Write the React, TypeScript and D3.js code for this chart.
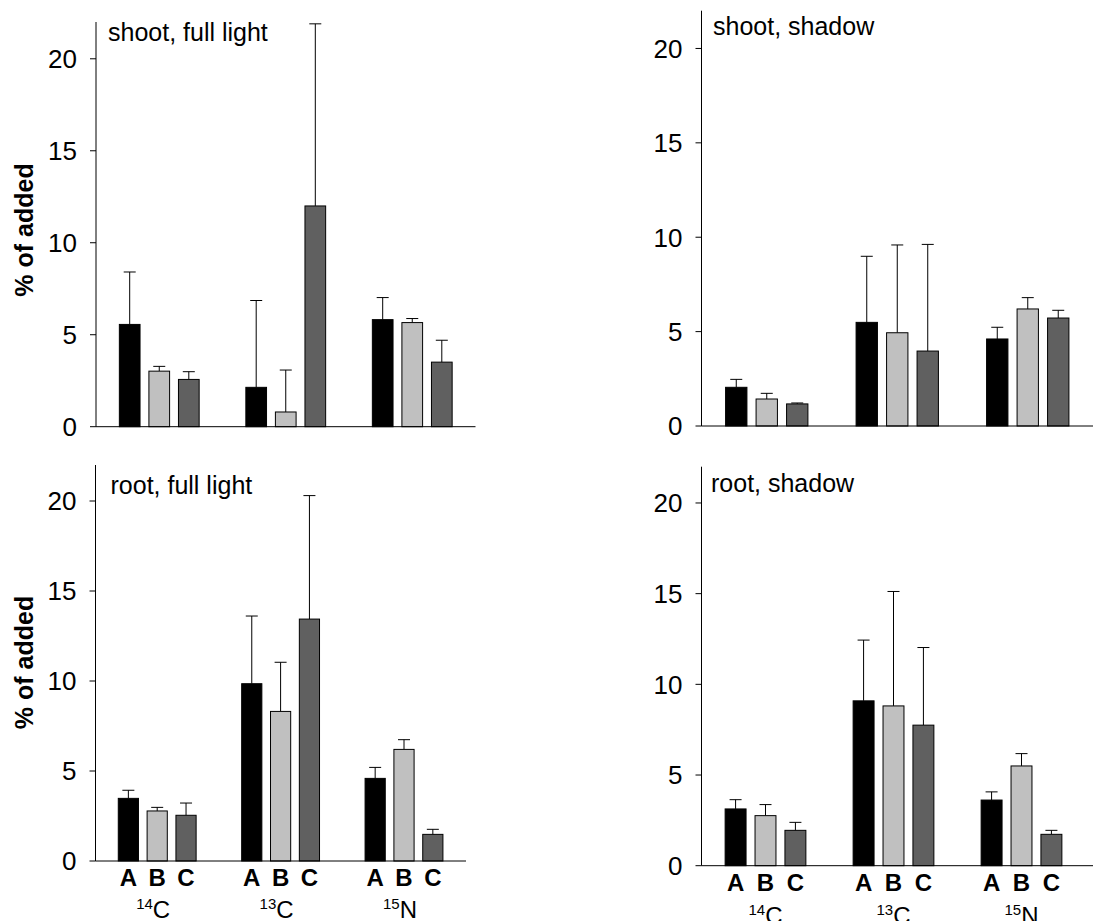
import React from 'react';
import * as d3 from 'd3';

const groups = ['14C', '13C', '15N'];
const isotopeMass = ['14', '13', '15'];
const isotopeElement = ['C', 'C', 'N'];
const treatments = ['A', 'B', 'C'];
const yTicks = [0, 5, 10, 15, 20];
const yMax = 22;
const barColors = ['#000000', '#c0c0c0', '#606060'];
const panelTitles = ['shoot, full light', 'shoot, shadow', 'root, full light', 'root, shadow'];

// values ordered 14C(A,B,C), 13C(A,B,C), 15N(A,B,C)
const shootFullMean = [5.56, 3.02, 2.57, 2.14, 0.8, 12.0, 5.82, 5.66, 3.51];
const shootFullErr = [2.85, 0.26, 0.42, 4.72, 2.28, 9.9, 1.2, 0.22, 1.19];
const shootShadowMean = [2.05, 1.43, 1.17, 5.49, 4.94, 3.97, 4.61, 6.2, 5.72];
const shootShadowErr = [0.42, 0.3, 0.05, 3.5, 4.65, 5.65, 0.62, 0.6, 0.41];
const rootFullMean = [3.48, 2.78, 2.54, 9.85, 8.31, 13.44, 4.59, 6.2, 1.48];
const rootFullErr = [0.45, 0.2, 0.68, 3.76, 2.73, 6.86, 0.61, 0.54, 0.28];
const rootShadowMean = [3.13, 2.76, 1.95, 9.09, 8.81, 7.75, 3.62, 5.5, 1.73];
const rootShadowErr = [0.51, 0.61, 0.44, 3.35, 6.31, 4.28, 0.45, 0.68, 0.22];

const panelMeans = [shootFullMean, shootShadowMean, rootFullMean, rootShadowMean];
const panelErrs = [shootFullErr, shootShadowErr, rootFullErr, rootShadowErr];

// layout of each panel
const layouts = [
  { x0: 96, gw: 126.5, xEnd: 475.5, yZero: 426.7, yTop: 22, titleX: 108, titleY: 41, yLabelY: 230, xLabels: false, isoDx: -4, isoY: 57 },
  { x0: 701.5, gw: 130.5, xEnd: 1093, yZero: 426, yTop: 10.7, titleX: 713, titleY: 34.5, yLabelY: 0, xLabels: false, isoDx: 0, isoY: 58 },
  { x0: 95.5, gw: 123.4, xEnd: 466, yZero: 861, yTop: 465, titleX: 110.5, titleY: 493.5, yLabelY: 662.5, xLabels: true, isoDx: -4, isoY: 57 },
  { x0: 701.5, gw: 128, xEnd: 1093, yZero: 865.7, yTop: 466.7, titleX: 711, titleY: 491.7, yLabelY: 0, xLabels: true, isoDx: 0, isoY: 58 },
];

const FONT = "'Liberation Sans', Arial, Helvetica, sans-serif";

function Panel({ idx }: { idx: number }) {
  const L = layouts[idx];
  const means = panelMeans[idx];
  const errs = panelErrs[idx];
  const y = d3.scaleLinear().domain([0, yMax]).range([L.yZero, L.yTop]);
  const x = d3.scaleBand<string>().domain(groups).range([L.x0, L.x0 + 3 * L.gw]).padding(0);
  const xi = d3
    .scaleBand<string>()
    .domain(treatments)
    .range([0, x.bandwidth()])
    .paddingInner(0.3)
    .paddingOuter(0.79);
  const capW = 12;
  return (
    <g>
      {groups.map((g, gi) =>
        treatments.map((t, ti) => {
          const v = means[gi * 3 + ti];
          const e = errs[gi * 3 + ti];
          const bx = (x(g) as number) + (xi(t) as number);
          const bw = xi.bandwidth();
          const cx = bx + bw / 2;
          return (
            <g key={g + t}>
              <line x1={cx} x2={cx} y1={y(v)} y2={y(v + e)} stroke="#000" strokeWidth={1} />
              <line x1={cx - capW / 2} x2={cx + capW / 2} y1={y(v + e)} y2={y(v + e)} stroke="#000" strokeWidth={1} />
              <rect x={bx} y={y(v)} width={bw} height={y(0) - y(v)} fill={barColors[ti]} stroke="#000" strokeWidth={1} />
            </g>
          );
        })
      )}
      <line x1={L.x0} x2={L.x0} y1={y(0)} y2={y(yMax)} stroke="#000" strokeWidth={1} />
      {yTicks.map((t) => (
        <g key={t}>
          <line x1={L.x0 - 6} x2={L.x0} y1={y(t)} y2={y(t)} stroke="#000" strokeWidth={1} />
          <text
            x={L.x0 - 19}
            y={y(t)}
            dy="0.36em"
            textAnchor="end"
            fontFamily={FONT}
            fontSize={26}
            fill="#000"
          >
            {t}
          </text>
        </g>
      ))}
      <line x1={L.x0} x2={L.xEnd} y1={y(0)} y2={y(0)} stroke="#000" strokeWidth={1} />
      <text x={L.titleX} y={L.titleY} fontFamily={FONT} fontSize={25} fill="#000">
        {panelTitles[idx]}
      </text>
      {L.yLabelY > 0 && (
        <text
          transform={`translate(33,${L.yLabelY}) rotate(-90)`}
          textAnchor="middle"
          fontFamily={FONT}
          fontSize={25}
          fontWeight="bold"
          fill="#000"
        >
          % of added
        </text>
      )}
      {L.xLabels &&
        groups.map((g, gi) => (
          <g key={'xl' + g}>
            {treatments.map((t) => (
              <text
                key={t}
                x={(x(g) as number) + (xi(t) as number) + xi.bandwidth() / 2}
                y={y(0) + 25}
                textAnchor="middle"
                fontFamily={FONT}
                fontSize={24}
                fontWeight="bold"
                fill="#000"
              >
                {t}
              </text>
            ))}
            <text
              x={(x(g) as number) + x.bandwidth() / 2 + L.isoDx}
              y={y(0) + L.isoY}
              textAnchor="middle"
              fontFamily={FONT}
              fontSize={24}
              fill="#000"
            >
              <tspan fontSize={15} dy={-9}>
                {isotopeMass[gi]}
              </tspan>
              <tspan dy={9}>{isotopeElement[gi]}</tspan>
            </text>
          </g>
        ))}
    </g>
  );
}

export default function App() {
  return (
    <svg
      width={1093}
      height={921}
      style={{ position: 'absolute', left: 0, top: 0, background: '#fff' }}
    >
      <rect width={1093} height={921} fill="#fff" />
      {layouts.map((_, i) => (
        <Panel key={i} idx={i} />
      ))}
    </svg>
  );
}
